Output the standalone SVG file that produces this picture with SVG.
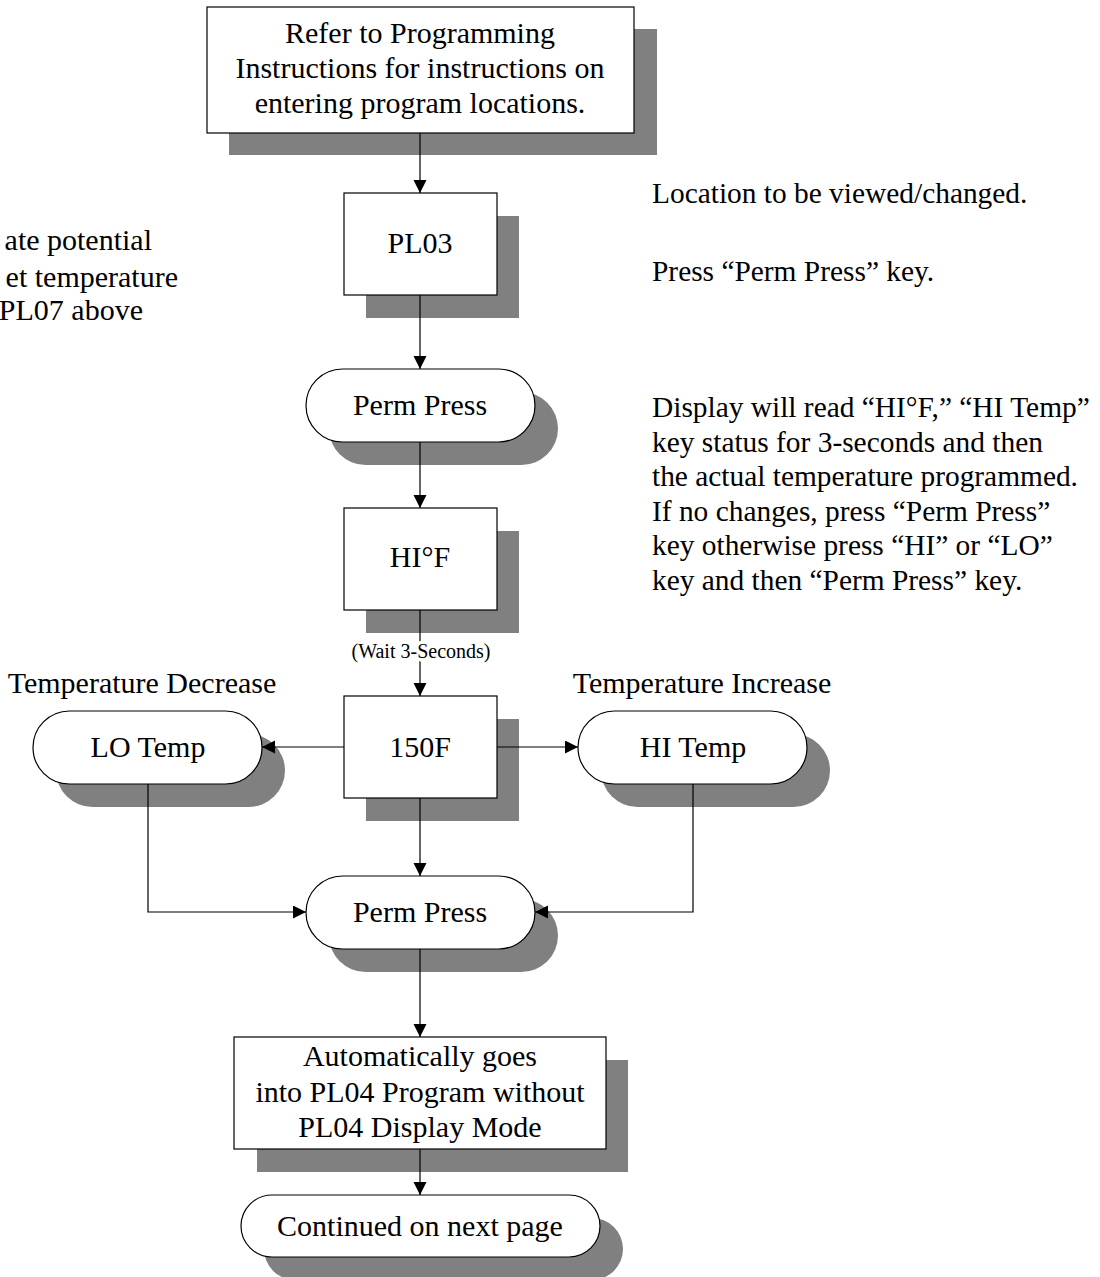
<svg xmlns="http://www.w3.org/2000/svg" width="1100" height="1277" viewBox="0 0 1100 1277">
<defs>
<style>
text{font-family:"Liberation Serif","Times New Roman",serif;fill:#000;font-size:30px}
.c{text-anchor:middle}
.e{text-anchor:end}
.r{font-size:29.4px}
.sh{fill:#808080;stroke:none}
.bx{fill:#fff;stroke:#000;stroke-width:1.2}
.ln{fill:none;stroke:#000;stroke-width:1.2}
.sm{font-size:20px}
</style>
<marker id="ah" markerUnits="userSpaceOnUse" markerWidth="14" markerHeight="14" refX="13" refY="6.5" orient="auto"><path d="M0,0 L13,6.5 L0,13 z" fill="#000"/></marker>
</defs>
<rect width="1100" height="1277" fill="#fff"/>

<g id="notes">
<text class="e" x="152" y="250">ate potential</text>
<text class="e" x="178" y="287">et temperature</text>
<text class="e" x="143" y="320">PL07 above</text>
<text class="r" x="652" y="203">Location to be viewed/changed.</text>
<text class="r" x="652" y="281">Press “Perm Press” key.</text>
<text class="r" x="652" y="417">Display will read “HI°F,” “HI Temp”</text>
<text class="r" x="652" y="452">key status for 3-seconds and then</text>
<text class="r" x="652" y="486">the actual temperature programmed.</text>
<text class="r" x="652" y="521">If no changes, press “Perm Press”</text>
<text class="r" x="652" y="555">key otherwise press “HI” or “LO”</text>
<text class="r" x="652" y="590">key and then “Perm Press” key.</text>
<text class="c" x="142" y="693">Temperature Decrease</text>
<text class="c" x="702" y="693">Temperature Increase</text>
</g>

<g id="n-start">
<rect class="sh" x="229" y="29" width="428" height="126"/>
<rect class="bx" x="207" y="7" width="427" height="126"/>
<text class="c" x="420" y="43">Refer to Programming</text>
<text class="c" x="420" y="78">Instructions for instructions on</text>
<text class="c" x="420" y="113">entering program locations.</text>
</g>

<g id="n-pl03">
<rect class="sh" x="366" y="216" width="153" height="102"/>
<rect class="bx" x="344" y="193" width="153" height="102"/>
<text class="c" x="420" y="253">PL03</text>
</g>

<g id="n-perm1">
<rect class="sh" x="329" y="392" width="229" height="73" rx="36.5"/>
<rect class="bx" x="306" y="369" width="229" height="73" rx="36.5"/>
<text class="c" x="420" y="415">Perm Press</text>
</g>

<g id="n-hif">
<rect class="sh" x="366" y="531" width="153" height="102"/>
<rect class="bx" x="344" y="508" width="153" height="102"/>
<text class="c" x="420" y="567">HI°F</text>
</g>

<g id="n-150f">
<rect class="sh" x="366" y="719" width="153" height="102"/>
<rect class="bx" x="344" y="696" width="153" height="102"/>
<text class="c" x="420" y="757">150F</text>
</g>

<g id="n-lo">
<rect class="sh" x="56" y="734" width="229" height="73" rx="36.5"/>
<rect class="bx" x="33" y="711" width="229" height="73" rx="36.5"/>
<text class="c" x="148" y="757">LO Temp</text>
</g>

<g id="n-hi">
<rect class="sh" x="601" y="734" width="229" height="73" rx="36.5"/>
<rect class="bx" x="578" y="711" width="229" height="73" rx="36.5"/>
<text class="c" x="693" y="757">HI Temp</text>
</g>

<g id="n-perm2">
<rect class="sh" x="329" y="899" width="229" height="73" rx="36.5"/>
<rect class="bx" x="306" y="876" width="229" height="73" rx="36.5"/>
<text class="c" x="420" y="922">Perm Press</text>
</g>

<g id="n-auto">
<rect class="sh" x="257" y="1060" width="371" height="112"/>
<rect class="bx" x="234" y="1037" width="372" height="112"/>
<text class="c" x="420" y="1066">Automatically goes</text>
<text class="c" x="420" y="1102">into PL04 Program without</text>
<text class="c" x="420" y="1137">PL04 Display Mode</text>
</g>

<g id="n-cont">
<rect class="sh" x="264" y="1218" width="359" height="62" rx="31"/>
<rect class="bx" x="241" y="1195" width="359" height="62" rx="31"/>
<text class="c" x="420" y="1236">Continued on next page</text>
</g>

<g id="connectors">
<path class="ln" d="M420,133 V193" marker-end="url(#ah)"/>
<path class="ln" d="M420,295 V369" marker-end="url(#ah)"/>
<path class="ln" d="M420,442 V508" marker-end="url(#ah)"/>
<path class="ln" d="M420,610 V696" marker-end="url(#ah)"/>
<path class="ln" d="M344,747 H262" marker-end="url(#ah)"/>
<path class="ln" d="M497,747 H578" marker-end="url(#ah)"/>
<path class="ln" d="M420,798 V876" marker-end="url(#ah)"/>
<path class="ln" d="M148,784 V912 H306" marker-end="url(#ah)"/>
<path class="ln" d="M693,784 V912 H535" marker-end="url(#ah)"/>
<path class="ln" d="M420,949 V1037" marker-end="url(#ah)"/>
<path class="ln" d="M420,1149 V1195" marker-end="url(#ah)"/>
<text class="c sm" x="421" y="658" style="stroke:#fff;stroke-width:7;paint-order:stroke">(Wait 3-Seconds)</text>
</g>
</svg>
